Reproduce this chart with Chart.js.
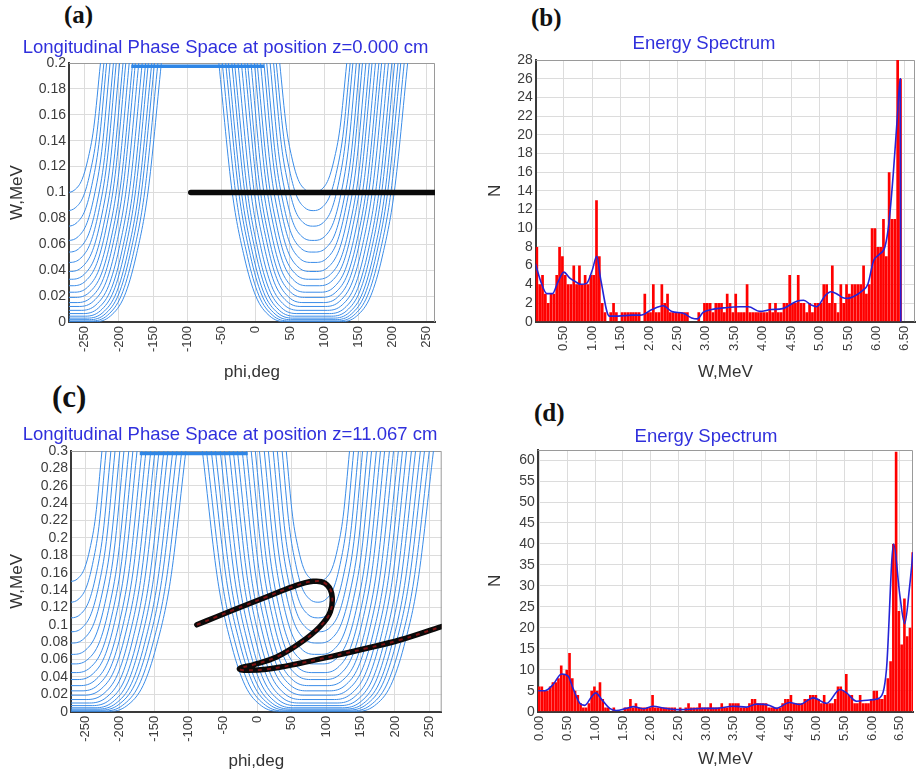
<!DOCTYPE html>
<html>
<head>
<meta charset="utf-8">
<title>Longitudinal phase space and energy spectrum</title>
<script src="https://cdn.jsdelivr.net/npm/chart.js@4.4.1/dist/chart.umd.min.js"></script>
<style>
  html, body { margin: 0; padding: 0; background: #fff; }
  body { position: relative; width: 916px; height: 774px; overflow: hidden; }
  canvas { position: absolute; }
  .tag { position: absolute; font: bold 25px/25px "Liberation Serif", "Times New Roman", serif; color: #111; }
</style>
</head>
<body>
<div class="tag" style="left:64px; top:2px">(a)</div>
<div class="tag" style="left:531px; top:5px">(b)</div>
<div class="tag" style="left:52px; top:382px; font-size:31px; line-height:30px">(c)</div>
<div class="tag" style="left:534px; top:400px">(d)</div>
<canvas id="chartA" width="451" height="355" style="left:0; top:30px"></canvas>
<canvas id="chartB" width="468" height="360" style="left:470px; top:25px"></canvas>
<canvas id="chartC" width="460" height="359" style="left:0; top:415px"></canvas>
<canvas id="chartD" width="472" height="354" style="left:470px; top:420px"></canvas>
<script>
// PANEL (a) - phase space at z = 0.000 cm
const bowlCentresA = [-276, 84];
const curveMinA  = [0.1, 0.086, 0.074, 0.063, 0.054, 0.046, 0.039, 0.033, 0.028, 0.023, 0.019, 0.015, 0.012, 0.009, 0.0065, 0.0045, 0.003, 0.0018, 0.0008, 0.0002];
const curveFlatA = [0, 0, 1, 2, 3, 4, 5, 7, 9, 11, 13, 15, 18, 21, 24, 27, 30, 33, 36, 40];
const curveHalfA = [49, 54, 58, 63, 68, 72, 77, 82, 86, 91, 96, 100, 105, 110, 115, 119, 124, 128, 133, 138];
const beamPhiA = [-95, 270];
const beamWA   = [0.1, 0.1];
const bandPhiA = [-182, 12];
const bandWA   = [0.1975, 0.1975];

// PANEL (c) - phase space at z = 11.067 cm
const bowlCentresC = [-272, 88];
const curveMinC  = [0.15, 0.126, 0.108, 0.092, 0.079, 0.066, 0.055, 0.045, 0.037, 0.03, 0.024, 0.019, 0.014, 0.01, 0.007, 0.0045, 0.003, 0.0018, 0.0008, 0.0002];
const curveFlatC = [0, 0, 1, 2, 3, 5, 7, 9, 11, 14, 17, 20, 24, 28, 32, 36, 40, 44, 49, 55];
const curveHalfC = [46, 52, 59, 65, 72, 78, 85, 91, 97, 104, 110, 117, 123, 129, 136, 142, 149, 155, 162, 168];
const beamPhiC = [-88, -60, -35, 13, 52, 81, 98, 108, 106, 91, 62, 28, -6, -24, -26, -20, 13, 62, 110, 159, 207, 268];
const beamWC   = [0.1, 0.109, 0.117, 0.132, 0.144, 0.15, 0.148, 0.136, 0.115, 0.098, 0.079, 0.063, 0.054, 0.0505, 0.049, 0.0478, 0.0488, 0.0557, 0.064, 0.073, 0.0825, 0.098];
const bandPhiC = [-171, -14];
const bandWC   = [0.297, 0.297];

// wall shape of the trajectories (fraction of wall width -> fraction of rise)
const wallU = [0, 0.24, 0.45, 0.62, 0.8, 1];
const wallV = [0, 0.022, 0.1, 0.25, 0.5, 1];

// PANEL (b) - energy spectrum, bins of 0.05 MeV
const binWidth = 0.05;
const binStartB = 0;
const countsB = [8, 4, 5, 3, 2, 3, 3, 5, 8, 7,
  5, 4, 4, 6, 4, 6, 4, 5, 4, 5,
  5, 13, 7, 2, 1, 0, 1, 2, 1, 0,
  1, 1, 1, 1, 1, 1, 1, 0, 3, 1,
  1, 4, 1, 1, 4, 2, 3, 1, 1, 1,
  1, 1, 1, 1, 0, 0, 0, 1, 0, 2,
  2, 2, 1, 2, 2, 2, 1, 3, 2, 1,
  3, 1, 1, 1, 4, 1, 1, 1, 1, 1,
  1, 1, 2, 1, 2, 1, 1, 2, 2, 5,
  2, 2, 5, 2, 2, 1, 2, 1, 2, 2,
  2, 4, 4, 2, 6, 2, 1, 4, 2, 4,
  3, 4, 4, 4, 4, 6, 3, 4, 10, 10,
  8, 8, 11, 7, 16, 11, 11, 28, 26];
const smoothWB = [0, 0.1, 0.2, 0.3, 0.4, 0.5, 0.6, 0.7, 0.8, 0.9, 1.0, 1.08, 1.15, 1.3, 1.45, 1.7, 1.85, 2.05, 2.25, 2.4,
  2.6, 2.75, 2.85, 2.95, 3.1, 3.35, 3.6, 3.75, 3.95, 4.15, 4.35, 4.6, 4.72, 4.85, 4.95, 5.1, 5.2, 5.3, 5.4, 5.5,
  5.6, 5.75, 5.85, 5.95, 6.05, 6.15, 6.22, 6.3, 6.37, 6.42, 6.43];
const smoothNB = [6.2, 4.2, 3.0, 3.0, 4.3, 5.3, 4.7, 4.3, 4.0, 4.1, 5.5, 7.0, 4.5, 0.6, 0.6, 0.7, 0.7, 1.3, 1.7, 1.1,
  0.9, 0.4, 0.3, 1.0, 1.3, 1.5, 1.6, 1.6, 1.1, 1.3, 1.4, 2.2, 2.3, 1.8, 1.6, 2.8, 3.2, 3.0, 2.6, 2.5,
  2.7, 3.3, 4.0, 6.5, 7.2, 8.0, 10.5, 16, 22, 26, 0];

// PANEL (d)
const binStartD = -0.04;
const countsD = [6, 6, 5, 5, 6, 7, 7, 8, 11, 9,
  10, 14, 8, 5, 4, 2, 1, 1, 2, 5,
  6, 5, 7, 3, 1, 1, 0, 1, 0, 0,
  0, 1, 1, 3, 1, 2, 1, 1, 1, 1,
  1, 4, 1, 1, 1, 1, 1, 1, 1, 1,
  0, 1, 0, 1, 2, 1, 1, 1, 2, 1,
  1, 1, 2, 1, 1, 1, 2, 1, 1, 2,
  2, 2, 2, 1, 1, 1, 2, 3, 3, 2,
  2, 2, 2, 1, 1, 1, 1, 1, 2, 3,
  3, 4, 2, 2, 2, 2, 3, 3, 4, 4,
  4, 3, 2, 4, 2, 2, 2, 3, 6, 6,
  5, 9, 4, 4, 2, 2, 4, 2, 2, 2,
  3, 5, 5, 3, 3, 4, 8, 12, 40, 62,
  24, 16, 27, 18, 20, 38];
const smoothWD = [-0.03, 0.09, 0.24, 0.39, 0.51, 0.6, 0.72, 0.81, 0.93, 1.01, 1.11, 1.26, 1.38, 1.56, 1.69, 1.87, 2.05, 2.23, 2.47, 2.71,
  2.95, 3.19, 3.49, 3.73, 3.91, 4.15, 4.27, 4.51, 4.69, 4.94, 5.18, 5.42, 5.54, 5.72, 5.96, 6.14, 6.26, 6.39, 6.5, 6.59, 6.68, 6.74];
const smoothND = [5, 5, 6.5, 9, 8.5, 5.5, 2, 1.5, 3.5, 4.5, 3, 0.8, 0.3, 0.8, 1.2, 0.7, 1.3, 0.9, 0.5, 0.6,
  0.8, 0.8, 1.3, 1.1, 1.8, 1.5, 0.8, 2.2, 1.7, 3.3, 2.0, 5.3, 4.5, 2.5, 2.8, 3.3, 10, 40, 28, 21, 30, 38];

const FONT = '"Liberation Sans", Arial, sans-serif';
Chart.defaults.font.family = FONT;
Chart.defaults.color = '#3c3c3c';

// top + right edge of the plot box (left/bottom come from the axis borders)
const framePlugin = {
  id: 'frame',
  beforeDatasetsDraw(chart) {
    const { ctx, chartArea: a } = chart;
    ctx.save(); ctx.strokeStyle = '#9a9a9a'; ctx.lineWidth = 1;
    ctx.beginPath();
    ctx.moveTo(a.left, a.top + 0.5); ctx.lineTo(a.right - 0.5, a.top + 0.5); ctx.lineTo(a.right - 0.5, a.bottom);
    ctx.stroke(); ctx.restore();
  }
};

const pairs = (xs, ys) => xs.map((x, i) => ({ x, y: ys[i] }));

function bowl(c, m, flat, half, top) {
  const pts = [];
  for (let j = wallU.length - 1; j >= 0; j--) pts.push({ x: c - flat - wallU[j] * (half - flat), y: m + wallV[j] * (top - m) });
  for (let j = flat > 0 ? 0 : 1; j < wallU.length; j++) pts.push({ x: c + flat + wallU[j] * (half - flat), y: m + wallV[j] * (top - m) });
  return pts;
}

function xAxis(min, max, step, fmt, title, h, tpad) {
  return {
    type: 'linear', min, max, offset: false,
    afterFit: s => { s.height = h; },
    ticks: { stepSize: step, includeBounds: false, autoSkip: false, minRotation: 90, maxRotation: 90, padding: 4, color: '#3c3c3c', font: { size: 13 }, callback: fmt },
    grid: { color: '#dcdcdc', drawTicks: false, offset: false },
    border: { color: '#3a3a3a', width: 2 },
    title: { display: true, text: title, color: '#333', font: { size: 17 }, padding: { top: 0, bottom: tpad } }
  };
}

function yAxis(max, step, fmt, title, w, tpad) {
  return {
    type: 'linear', min: 0, max,
    afterFit: s => { s.width = w; },
    ticks: { stepSize: step, includeBounds: false, autoSkip: false, padding: 3, color: '#3c3c3c', font: { size: 14 }, callback: fmt },
    grid: { color: '#dcdcdc', drawTicks: false },
    border: { color: '#3a3a3a', width: 2 },
    title: { display: true, text: title, color: '#333', font: { size: 17 }, padding: { top: tpad, bottom: 0 } }
  };
}

// empty right-hand box: keeps the plot edge where it is while the title centres on the whole panel
function spacer(w) {
  return {
    position: 'right', min: 0, max: 1,
    afterFit: s => { s.width = w; },
    ticks: { display: false }, grid: { display: false }, border: { display: false }
  };
}

function titleOpts(text, top, bottom) {
  return { display: true, text, color: '#3030dc', font: { size: 18.5, weight: 'normal' }, padding: { top, bottom } };
}

function phaseChart(id, p) {
  const sets = [];
  // beam first so it sits on top
  if (p.speckle) sets.push({ data: pairs(p.beamPhi, p.beamW), borderColor: 'rgba(150,20,20,0.8)', borderWidth: 2, borderDash: [4, 5], tension: 0.4, showLine: true, pointRadius: 0 });
  sets.push({ data: pairs(p.beamPhi, p.beamW), borderColor: '#0a0a0a', borderWidth: 5.5, borderCapStyle: 'round', tension: 0.4, showLine: true, pointRadius: 0 });
  sets.push({ data: pairs(p.bandPhi, p.bandW), borderColor: '#2f86e6', borderWidth: 3.5, showLine: true, pointRadius: 0 });
  p.mins.forEach((m, i) => {
    p.centres.forEach(c => {
      sets.push({ data: bowl(c, m, p.flats[i], p.halves[i], p.top), borderColor: '#3a8ce8', borderWidth: 1, showLine: true, pointRadius: 0, cubicInterpolationMode: 'monotone' });
    });
  });
  return new Chart(document.getElementById(id), {
    type: 'scatter',
    data: { datasets: sets },
    plugins: [framePlugin],
    options: {
      responsive: false, animation: false, devicePixelRatio: 1,
      layout: { padding: 0 },
      plugins: { legend: { display: false }, tooltip: { enabled: false }, title: titleOpts(p.title, p.tTop, p.tBottom) },
      scales: {
        x: xAxis(p.xMin, p.xMax, 50, v => String(v), 'phi,deg', p.xH, 2),
        y: yAxis(p.top, 0.02, v => String(Math.round(v * 1000) / 1000), 'W,MeV', p.yW, 7),
        pad: spacer(p.rightW)
      }
    }
  });
}

function spectrumChart(id, p) {
  const bars = p.counts.map((n, k) => ({ x: p.start + (k + 0.5) * binWidth, y: n }));
  return new Chart(document.getElementById(id), {
    type: 'bar',
    data: {
      datasets: [
        { type: 'line', data: pairs(p.smoothW, p.smoothN), borderColor: '#2424d6', borderWidth: 1.6, pointRadius: 0, cubicInterpolationMode: 'monotone', fill: false },
        { type: 'bar', data: bars, backgroundColor: '#ff0000', borderWidth: 0, barPercentage: 0.95, categoryPercentage: 1 }
      ]
    },
    plugins: [framePlugin],
    options: {
      responsive: false, animation: false, devicePixelRatio: 1,
      layout: { padding: 0 },
      plugins: { legend: { display: false }, tooltip: { enabled: false }, title: titleOpts('Energy Spectrum', p.tTop, p.tBottom) },
      scales: {
        x: xAxis(p.xMin, p.xMax, 0.5, v => v.toFixed(2), 'W,MeV', p.xH, p.xTitlePad),
        y: yAxis(p.yMax, p.yStep, v => String(v), 'N', p.yW, 15),
        pad: spacer(p.rightW)
      }
    }
  });
}

phaseChart('chartA', {
  title: 'Longitudinal Phase Space at position z=0.000 cm', tTop: 7, tBottom: 3.8,
  centres: bowlCentresA, mins: curveMinA, flats: curveFlatA, halves: curveHalfA, top: 0.2,
  beamPhi: beamPhiA, beamW: beamWA, bandPhi: bandPhiA, bandW: bandWA, speckle: false,
  xMin: -273, xMax: 262, xH: 63, yW: 69, rightW: 16
});

spectrumChart('chartB', {
  tTop: 7.9, tBottom: 4.9, counts: countsB, start: binStartB, smoothW: smoothWB, smoothN: smoothNB,
  xMin: 0.005, xMax: 6.68, xH: 63.3, xTitlePad: 2, yMax: 28, yStep: 2, yW: 65.7, rightW: 23
});

phaseChart('chartC', {
  title: 'Longitudinal Phase Space at position z=11.067 cm', tTop: 8.9, tBottom: 4.9,
  centres: bowlCentresC, mins: curveMinC, flats: curveFlatC, halves: curveHalfC, top: 0.3,
  beamPhi: beamPhiC, beamW: beamWC, bandPhi: bandPhiC, bandW: bandWC, speckle: true,
  xMin: -271, xMax: 268, xH: 62.3, yW: 71, rightW: 18.3
});

spectrumChart('chartD', {
  tTop: 5.9, tBottom: 1.9, counts: countsD, start: binStartD, smoothW: smoothWD, smoothN: smoothND,
  xMin: -0.04, xMax: 6.74, xH: 62.3, xTitlePad: 4, yMax: 62.4, yStep: 5, yW: 67.7, rightW: 29
});
</script>
</body>
</html>
